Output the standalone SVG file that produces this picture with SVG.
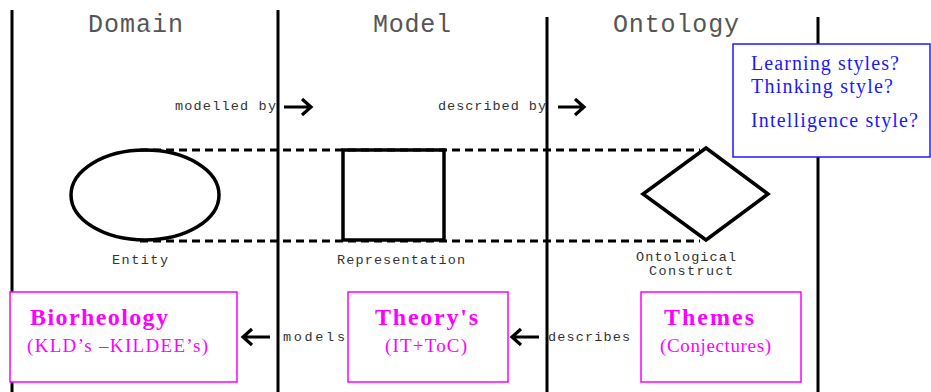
<svg xmlns="http://www.w3.org/2000/svg" width="931" height="392" viewBox="0 0 931 392">
<style>
.title{font-family:"Liberation Mono",monospace;font-size:25px;fill:#555}
.small{font-family:"Liberation Mono",monospace;font-size:13.5px;fill:#333}
.blue{font-family:"Liberation Serif",serif;font-size:20px;fill:#1a1aff}
.mag{font-family:"Liberation Serif",serif;fill:#ff00ff}
.shape{fill:none;stroke:#000;stroke-width:3.5}
.vline{stroke:#000;stroke-width:3}
.dash{stroke:#000;stroke-width:3;stroke-dasharray:8 5}
.mbox{fill:#fff;stroke:#ff00ff;stroke-width:1.5}
.arrow{fill:none;stroke:#000;stroke-width:3.2}
</style>
<rect width="931" height="392" fill="#fff"/>
<g id="columns">
<line class="vline" x1="12" y1="10" x2="12" y2="392"/>
<line class="vline" x1="278" y1="10" x2="278" y2="392"/>
<line class="vline" x1="547" y1="17" x2="547" y2="392"/>
<line class="vline" x1="818" y1="17" x2="818" y2="392"/>
<text class="title" x="88" y="32" textLength="95">Domain</text>
<text class="title" x="373" y="32" textLength="78">Model</text>
<text class="title" x="613" y="32" textLength="126">Ontology</text>
</g>
<g id="connectors">
<line class="dash" x1="140" y1="150" x2="700" y2="150"/>
<line class="dash" x1="140" y1="241" x2="700" y2="241"/>
<text class="small" x="175" y="110" textLength="101">modelled by</text>
<path class="arrow" d="M284 107 H311 M302 99 L311 107 L302 115"/>
<text class="small" x="438" y="110" textLength="108">described by</text>
<path class="arrow" d="M558 107 H584 M575 99 L584 107 L575 115"/>
<path class="arrow" d="M270 337 H243 M252 329 L243 337 L252 345"/>
<text class="small" x="283" y="341" textLength="62">models</text>
<path class="arrow" d="M539 337 H512 M521 329 L512 337 L521 345"/>
<text class="small" x="548" y="341" textLength="82">describes</text>
</g>
<g id="entity">
<ellipse class="shape" cx="145" cy="195" rx="74" ry="45"/>
<text class="small" x="112" y="264" textLength="56">Entity</text>
</g>
<g id="representation">
<rect class="shape" x="343" y="150" width="101" height="90"/>
<text class="small" x="337" y="264" textLength="128">Representation</text>
</g>
<g id="construct">
<polygon class="shape" points="706,148 768,194 706,240 643,194"/>
<text class="small" x="636" y="261" textLength="100">Ontological</text>
<text class="small" x="649" y="275" textLength="84">Construct</text>
</g>
<g id="styles">
<rect x="733" y="44" width="197" height="113" fill="#fff" stroke="#1a1aff" stroke-width="1.5"/>
<text class="blue" x="751" y="70" textLength="148">Learning styles?</text>
<text class="blue" x="751" y="93" textLength="142">Thinking style?</text>
<text class="blue" x="751" y="127" textLength="167">Intelligence style?</text>
</g>
<g id="biorheology">
<rect class="mbox" x="10" y="292" width="227" height="90"/>
<text class="mag" x="30" y="325" font-size="24" font-weight="bold" textLength="138">Biorheology</text>
<text class="mag" x="27" y="352" font-size="19" textLength="181">(KLD’s –KILDEE’s)</text>
</g>
<g id="theory">
<rect class="mbox" x="348" y="292" width="160" height="90"/>
<text class="mag" x="375" y="325" font-size="24" font-weight="bold" textLength="103">Theory's</text>
<text class="mag" x="385" y="352" font-size="19" textLength="82">(IT+ToC)</text>
</g>
<g id="themes">
<rect class="mbox" x="641" y="292" width="160" height="90"/>
<text class="mag" x="664" y="325" font-size="24" font-weight="bold" textLength="90">Themes</text>
<text class="mag" x="660" y="352" font-size="19" textLength="111">(Conjectures)</text>
</g>
</svg>
